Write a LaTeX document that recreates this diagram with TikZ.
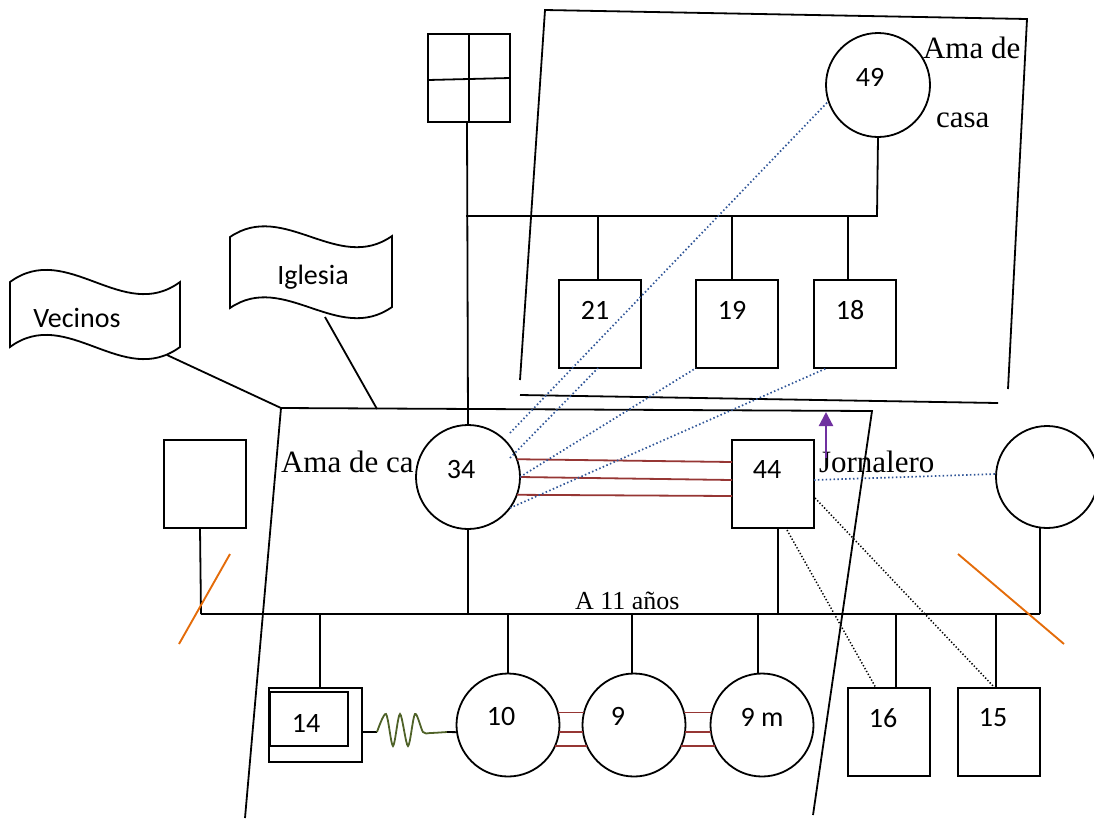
\documentclass[tikz,border=0pt]{standalone}
\usepackage{fontspec}
\setmainfont{Liberation Serif}
\newfontfamily\calib{Carlito}
\usetikzlibrary{arrows.meta,calc}
\definecolor{dred}{RGB}{150,54,52}
\definecolor{dblue}{RGB}{47,85,151}
\definecolor{purp}{RGB}{112,48,160}
\definecolor{orng}{RGB}{228,108,10}
\definecolor{olivez}{RGB}{79,98,40}
\begin{document}
\begin{tikzpicture}[x=1pt,y=-1pt,line width=1.8pt,
  every node/.style={inner sep=0pt,outer sep=0pt},
  num/.style={font=\calib\fontsize{28}{30}\selectfont},
  ser/.style={font=\fontsize{31}{34}\selectfont},
  sersm/.style={font=\fontsize{26}{30}\selectfont},
  pbox/.style={draw,minimum width=82pt,minimum height=88pt},
  pcirc/.style={circle,draw,minimum size=#1},
  pcirc/.default=104pt,
  dotb/.style={dblue,line width=1.7pt,dash pattern=on 1.5pt off 2.4pt},
  dotk/.style={black,line width=1.5pt,dash pattern=on 1.3pt off 2pt},
  redl/.style={dred,line width=1.8pt},
  orl/.style={orng,line width=1.9pt}]
\useasboundingbox (0,0) rectangle (1094,828);

% ---------- upper house ----------
\coordinate (HA) at (545,10);
\coordinate (HB) at (1027,19);
\coordinate (HC) at (520,380);
\coordinate (HD) at (1008,389);
\coordinate (HE) at (520,395);
\coordinate (HF) at (998,403);
\draw (HC) -- (HA) -- (HB) -- (HD);
\draw (HE) -- (HF);

% ---------- lower house ----------
\coordinate (hA) at (281,408);
\coordinate (hB) at (872,411);
\coordinate (hC) at (245,818);
\coordinate (hD) at (813,815);
\draw (hC) -- (hA) -- (hB) -- (hD);

% ---------- flags ----------
\draw[fill=white] (10,282) .. controls (67,240) and (123,324) .. (180,282)
  -- (180,347) .. controls (123,389) and (67,305) .. (10,347) -- cycle;
\node[num] (vecinos) at (77,318) {Vecinos};
\coordinate (vfoot) at (167,355);
\draw[fill=white] (230,237) .. controls (284,200) and (338,274) .. (392,236)
  -- (392,307) .. controls (338,345) and (284,271) .. (230,308) -- cycle;
\node[num] (iglesia) at (313,277) {Iglesia};
\coordinate (ifoot) at (325,317);
\coordinate (hI) at (377,409);
\draw (vfoot) -- (hA);
\draw (ifoot) -- (hI);

% ---------- people ----------
\node[pbox] (cross) at (469,78) {};
\draw (cross.north) -- (cross.south);
\draw ($(cross.west)+(0,2)$) -- (cross.east);

\node[pcirc,label={[num,xshift=-8pt,yshift=8pt]center:49}] (c49) at (878,85) {};
\node[ser,anchor=base west] (amade) at (923,58) {Ama de};
\node[ser,anchor=base west] (casa) at (936,127) {casa};

\node[pbox,label={[num,xshift=-5pt,yshift=14pt]center:21}] (b21) at (600,324) {};
\node[pbox,label={[num,xshift=-5pt,yshift=14pt]center:19}] (b19) at (737,324) {};
\node[pbox,label={[num,xshift=-5pt,yshift=14pt]center:18}] (b18) at (855,324) {};

\node[ser,anchor=base west] (amadeca) at (281,472) {Ama de ca};
\node[pcirc,fill=white,label={[num,xshift=-7pt,yshift=7pt]center:34}] (c34) at (468,477) {};
\node[pbox,label={[num,xshift=-6pt,yshift=14pt]center:44}] (b44) at (773,484) {};
\node[ser,anchor=base west] (jorn) at (819,472) {Jornalero};
\node[pbox] (bl) at (205,484) {};
\node[pcirc=102pt] (cr) at (1047,477) {};

\node[sersm,anchor=base west] (anios) at (575,609) {A 11 años};

\node[draw,minimum width=93pt,minimum height=74pt] (b14o) at (315.5,725) {};
\node[draw,minimum width=78pt,minimum height=54pt,label={[num,xshift=-3pt,yshift=-4pt]center:14}] (b14) at (309,719) {};
\node[pcirc=103pt,label={[num,xshift=-7pt,yshift=9pt]center:10}] (c10) at (508,725) {};
\node[pcirc=103pt,label={[num,xshift=-16pt,yshift=9pt]center:9}] (c9) at (634,725) {};
\node[pcirc=103pt,label={[num,xshift=0pt,yshift=8pt]center:9 m}] (c9m) at (762,725) {};
\node[pbox,label={[num,xshift=-6pt,yshift=14pt]center:16}] (b16) at (889,732) {};
\node[pbox,label={[num,xshift=-6pt,yshift=14pt]center:15}] (b15) at (999,732) {};

% ---------- family lines ----------
\coordinate (u1) at (466,216);
\coordinate (u2) at (877,216);
\draw ($(cross.south)+(-2,0)$) -- (c34.north);
\draw (c49.south) -- (u2) -- (u1);
\path (b21.north) ++(-2,0) coordinate (d21)
      (b19.north) ++(-5,0) coordinate (d19)
      (b18.north) ++(-7,0) coordinate (d18);
\draw (d21) -- (d21 |- u1);
\draw (d19) -- (d19 |- u1);
\draw (d18) -- (d18 |- u1);

\coordinate (s1) at (201,614);
\coordinate (s2) at (1040,614);
\draw (s1) -- (s2);
\path (bl.south) ++(-5,0) coordinate (dbl)
      (cr.south) ++(-7,0) coordinate (dcr)
      (b44.south) ++(5,0) coordinate (d44)
      (b14o.north) ++(4.5,0) coordinate (d14)
      (c9.north) ++(-2,0) coordinate (d9)
      (c9m.north) ++(-4,0) coordinate (d9m)
      (b16.north) ++(7,0) coordinate (d16)
      (b15.north) ++(-3,0) coordinate (d15);
\draw (dbl) -- (s1);
\draw (dcr) -- (s2);
\draw (c34.south) -- (c34.south |- s1);
\draw (d44) -- (d44 |- s1);
\draw (d14) -- (d14 |- s1);
\draw (c10.north) -- (c10.north |- s1);
\draw (d9) -- (d9 |- s1);
\draw (d9m) -- (d9m |- s1);
\draw (d16) -- (d16 |- s1);
\draw (d15) -- (d15 |- s1);

% ---------- relations ----------
\draw[redl] (c34.20) -- ($(b44.west)+(0,-22)$);
\draw[redl] (c34.0) -- ($(b44.west)+(0,-4)$);
\draw[redl] (c34.-20) -- ($(b44.west)+(0,12)$);

\draw[redl] (c10.14) -- (c9.166);
\draw[redl] (c10.-8) -- (c9.188);
\draw[redl] (c10.-24) -- (c9.204);
\draw[redl] (c9.14) -- (c9m.166);
\draw[redl] (c9.-8) -- (c9m.188);
\draw[redl] (c9.-24) -- (c9m.204);

\coordinate (z0) at ($(b14o.east)+(0,7)$);
\coordinate (z1) at (377,732);
\coordinate (z2) at (447,732);
\draw (z0) -- (z1);
\draw[olivez] plot[smooth,tension=0.5] coordinates {(377,732) (386,714) (393,746) (400,714) (408,746) (415,714) (423,732) (430,733) (447,732)};
\draw (z2) -- (c10.188);

\draw[dotb] ($(c34)+(42,-44)$) -- (c49.198);
\draw[dotb] ($(c34)+(42,-19)$) -- ($(b21.south)+(-2,0)$);
\draw[dotb] (c34.east) -- (b19.south west);
\draw[dotb] ($(c34)+(42,31)$) -- ($(b18.south west)+(13,0)$);
\draw[dotb] ($(b44.east)+(0,-4)$) -- ($(cr.west)+(0,-3)$);

\draw[dotk] ($(b44.east)+(1,14)$) -- ($(b15.north)+(-4,0)$);
\draw[dotk] ($(b44.south)+(14,2)$) -- ($(b16.north)+(-13,0)$);

\coordinate (atip) at (826,412);
\draw[purp,line width=2.2pt,-{Triangle[width=14pt,length=14pt]}] ($(b44.north)+(53,18)$) -- (atip);

\draw[orl] (230,554) -- (179,644);
\draw[orl] (958,554) -- (1064,644);
\end{tikzpicture}
\end{document}
